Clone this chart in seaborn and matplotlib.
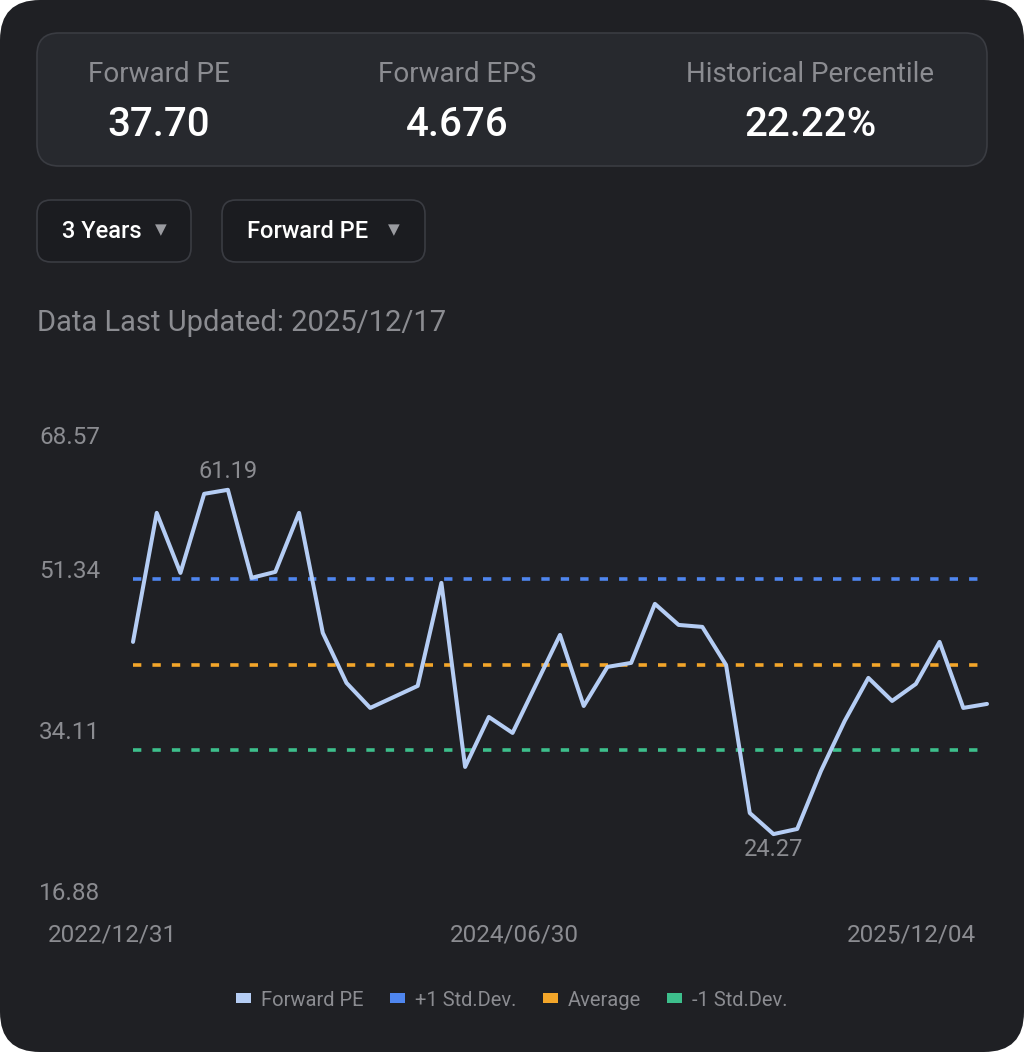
import matplotlib
matplotlib.use("Agg")
import matplotlib.pyplot as plt
import seaborn as sns
import numpy as np
import pandas as pd
from matplotlib.patches import FancyBboxPatch, Patch
from matplotlib import transforms

# ----------------------------
# Data
# ----------------------------
forward_pe = [44.88, 58.72, 52.28, 60.76, 61.19, 51.75, 52.39, 58.72, 45.85, 40.48,
              37.80, 38.98, 40.16, 51.21, 31.47, 36.83, 35.12, 40.37, 45.63, 38.01,
              42.20, 42.63, 48.96, 46.70, 46.49, 42.41, 26.53, 24.27, 24.82, 31.04,
              36.40, 41.02, 38.55, 40.37, 44.88, 37.80, 38.23]
plus_1_std = 51.60
average = 42.45
minus_1_std = 33.30

y_ticks = [16.88, 34.11, 51.34, 68.57]
x_labels = ["2022/12/31", "2024/06/30", "2025/12/04"]

stat_names = ["Forward PE", "Forward EPS", "Historical Percentile"]
stat_values = ["37.70", "4.676", "22.22%"]
dropdowns = ["3 Years", "Forward PE"]
updated = "Data Last Updated: 2025/12/17"

legend_names = ["Forward PE", "+1 Std.Dev.", "Average", "-1 Std.Dev."]

# ----------------------------
# Style
# ----------------------------
sns.set_theme(style="dark")
plt.rcParams["font.family"] = ["Roboto", "DejaVu Sans"]
plt.rcParams["lines.scale_dashes"] = False

CARD = "#1f2024"
BOX = "#27292e"
DROP = "#1b1c20"
EDGE = "#3a3c42"
GRAY = "#8b8c91"
WHITE = "#ffffff"
C_PE = "#b5cdf4"
C_UP = "#4f86ef"
C_AVG = "#f3a62a"
C_DN = "#3dbf8c"

W, H = 1024, 1052
fig = plt.figure(figsize=(W / 100, H / 100), dpi=100, facecolor="white")


def fx(x):
    return x / W


def fy(y):
    return 1 - y / H


def rbox(x0, y0, x1, y1, r, fc, ec=None, lw=0):
    p = FancyBboxPatch((fx(x0 + r), fy(y1 - r)), fx(x1 - x0 - 2 * r), (y1 - y0 - 2 * r) / H,
                       boxstyle=f"round,pad={r / W}", transform=fig.transFigure,
                       facecolor=fc, edgecolor=ec if ec else fc, linewidth=lw,
                       mutation_aspect=W / H, zorder=-1)
    fig.patches.append(p)


# card background and header boxes
rbox(0, 0, W, H, 40, CARD)
rbox(37, 33, 987, 166, 22, BOX, EDGE, 1.2)
rbox(37, 200, 191, 262, 14, DROP, EDGE, 1.2)
rbox(222, 200, 425, 262, 14, DROP, EDGE, 1.2)

stat_x = [159, 457, 810]
for name, val, x in zip(stat_names, stat_values, stat_x):
    fig.text(fx(x), fy(74), name, ha="center", va="center", fontsize=20, color=GRAY)
    fig.text(fx(x), fy(125), val, ha="center", va="center", fontsize=29,
             color=WHITE, fontweight="medium")

drop_x = [(62, 161), (247, 394)]
for label, (tx, ax_) in zip(dropdowns, drop_x):
    fig.text(fx(tx), fy(231), label, ha="left", va="center", fontsize=17,
             color=WHITE, fontweight="medium")
    fig.text(fx(ax_), fy(230), "\u25BC", ha="center", va="center", fontsize=11,
             color="#9a9ba0", family=["DejaVu Sans"])

fig.text(fx(37), fy(323), updated, ha="left", va="center", fontsize=21, color=GRAY)

# ----------------------------
# Chart
# ----------------------------
ax = fig.add_axes([fx(133), fy(903), (987 - 133) / W, (903 - 421) / H])
ax.set_zorder(2)
ax.set_facecolor("none")
for s in ax.spines.values():
    s.set_visible(False)

df = pd.DataFrame({"idx": np.arange(len(forward_pe)), "pe": forward_pe})
dash = (0, (6, 8))
for val, col in [(plus_1_std, C_UP), (average, C_AVG), (minus_1_std, C_DN)]:
    ax.axhline(val, color=col, lw=2.6, ls=dash, xmax=0.994, dash_capstyle="butt")
sns.lineplot(data=df, x="idx", y="pe", ax=ax, color=C_PE, lw=2.9, clip_on=False)

ax.set_xlim(0, len(forward_pe) - 1)
ax.set_ylim(y_ticks[0], y_ticks[-1])
ax.set_xticks([])
ax.set_yticks([])
ax.set_xlabel("")
ax.set_ylabel("")
ax.grid(False)

# max / min labels
i_max = int(np.argmax(forward_pe))
i_min = int(np.argmin(forward_pe))
ax.annotate(f"{forward_pe[i_max]:.2f}", (i_max, forward_pe[i_max]), xytext=(0, 5),
            textcoords="offset points", ha="center", va="bottom", fontsize=17, color=GRAY)
ax.annotate(f"{forward_pe[i_min]:.2f}", (i_min, forward_pe[i_min]), xytext=(0, -3),
            textcoords="offset points", ha="center", va="top", fontsize=17, color=GRAY)

# y axis labels (left aligned at card padding)
ytr = transforms.blended_transform_factory(fig.transFigure, ax.transData)
for i, t in enumerate(y_ticks):
    top = i == len(y_ticks) - 1
    off = transforms.ScaledTranslation(0, (-12.2 if top else 7.2) / 72, fig.dpi_scale_trans)
    fig.text(fx(39), t, f"{t:.2f}", transform=ytr + off, ha="left",
             va="center", fontsize=17.5, color=GRAY)

# x axis labels
for lab, x, ha in zip(x_labels, [48, 514, 976], ["left", "center", "right"]):
    fig.text(fx(x), fy(935), lab, ha=ha, va="center", fontsize=17.5, color=GRAY)

# legend
handles = [Patch(facecolor=c, edgecolor="none") for c in [C_PE, C_UP, C_AVG, C_DN]]
fig.legend(handles, legend_names, loc="center", bbox_to_anchor=(fx(512), fy(1000)),
           ncol=4, frameon=False, fontsize=14.5, labelcolor=GRAY, handlelength=0.75,
           handleheight=0.4, handletextpad=0.5, columnspacing=1.3)

fig.savefig("out.png", dpi=100, facecolor="white")
